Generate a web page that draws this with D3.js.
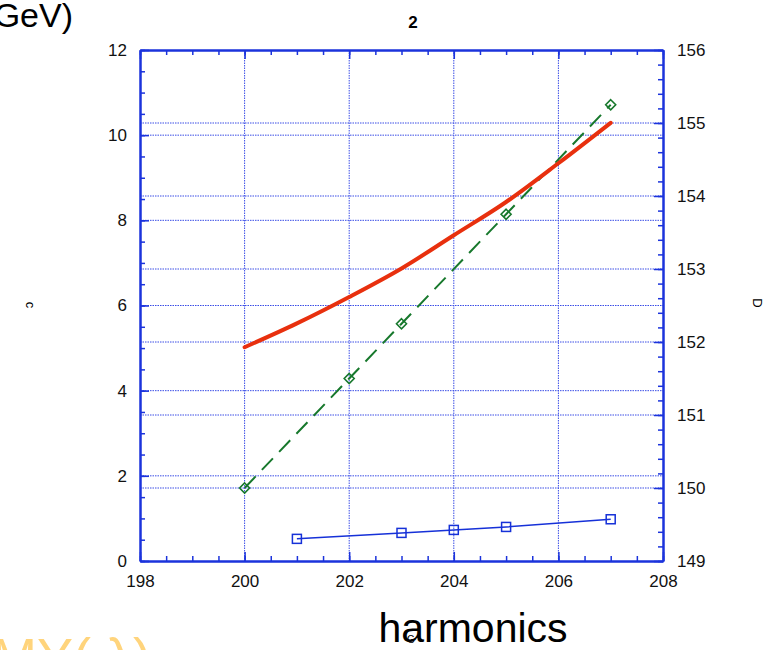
<!DOCTYPE html>
<html>
<head>
<meta charset="utf-8">
<script src="https://cdn.jsdelivr.net/npm/d3@7"></script>
<style>
body { margin: 0; background: #fff; }
svg { display: block; font-family: "Liberation Sans", Arial, sans-serif; }
</style>
</head>
<body>
<svg id="chart" width="765" height="650"></svg>
<script>

// values
var harmonics = [200, 201, 202, 203, 204, 205, 206, 207];
var redValues = [5.02, 5.58, 6.20, 6.87, 7.65, 8.43, 9.34, 10.29];

var greenHarmonics = [200, 202, 203, 205, 207];
var greenValues = [150.0, 151.5, 152.25, 153.75, 155.25];

var blueHarmonics = [201, 203, 204, 205, 207];
var blueValues = [0.52, 0.66, 0.73, 0.80, 0.98];

var xTicks = [198, 200, 202, 204, 206, 208];
var leftTicks = [0, 2, 4, 6, 8, 10, 12];
var rightTicks = [149, 150, 151, 152, 153, 154, 155, 156];

var svg = d3.select("#chart");

// plot box ("top" is taken by window.top, so use pl/pr/pt/pb)
var pl = 140, pr = 663, pt = 50, pb = 561;
var axisBlue = "#1b33dc";

var x = d3.scaleLinear().domain([198, 208]).range([pl, pr]);
var yL = d3.scaleLinear().domain([0, 12]).range([pb, pt]);
var yR = d3.scaleLinear().domain([149, 156]).range([pb, pt]);

// grid
var grid = svg.append("g")
    .attr("stroke", "#3a4de6")
    .attr("stroke-width", 1)
    .attr("stroke-dasharray", "1.5,1");

grid.selectAll("line.v")
    .data(xTicks.slice(1, -1))
    .enter().append("line")
    .attr("x1", function(d){ return x(d); })
    .attr("x2", function(d){ return x(d); })
    .attr("y1", pt).attr("y2", pb);

grid.selectAll("line.hl")
    .data(leftTicks.slice(1, -1))
    .enter().append("line")
    .attr("x1", pl).attr("x2", pr)
    .attr("y1", function(d){ return yL(d); })
    .attr("y2", function(d){ return yL(d); });

grid.selectAll("line.hr")
    .data(rightTicks.slice(1, -1))
    .enter().append("line")
    .attr("x1", pl).attr("x2", pr)
    .attr("y1", function(d){ return yR(d); })
    .attr("y2", function(d){ return yR(d); });

function styleAxis(g){
    g.select(".domain").attr("stroke", axisBlue).attr("stroke-width", 2);
    g.selectAll(".tick line").attr("stroke", axisBlue).attr("stroke-width", 1.5);
    g.selectAll(".tick text").attr("fill", "#111").style("font-size", "17px");
}

// minor ticks first
var xMinor = d3.range(198, 208.01, 0.5);
var lMinor = d3.range(0, 12.01, 0.5);
var rMinor = d3.range(149, 156.01, 0.2);

svg.append("g").attr("transform", "translate(0," + pb + ")")
    .call(d3.axisBottom(x).tickValues(xMinor).tickFormat("").tickSizeInner(-5).tickSizeOuter(0))
    .call(styleAxis);
svg.append("g").attr("transform", "translate(0," + pt + ")")
    .call(d3.axisTop(x).tickValues(xMinor).tickFormat("").tickSizeInner(-5).tickSizeOuter(0))
    .call(styleAxis);
svg.append("g").attr("transform", "translate(" + pl + ",0)")
    .call(d3.axisLeft(yL).tickValues(lMinor).tickFormat("").tickSizeInner(-5).tickSizeOuter(0))
    .call(styleAxis);
svg.append("g").attr("transform", "translate(" + pr + ",0)")
    .call(d3.axisRight(yR).tickValues(rMinor).tickFormat("").tickSizeInner(-5).tickSizeOuter(0))
    .call(styleAxis);

// major ticks + labels
svg.append("g").attr("transform", "translate(0," + pb + ")")
    .call(d3.axisBottom(x).tickValues(xTicks).tickFormat(d3.format("d")).tickSizeInner(-9).tickSizeOuter(0).tickPadding(14))
    .call(styleAxis);
svg.append("g").attr("transform", "translate(0," + pt + ")")
    .call(d3.axisTop(x).tickValues(xTicks).tickFormat("").tickSizeInner(-9).tickSizeOuter(0))
    .call(styleAxis);
svg.append("g").attr("transform", "translate(" + pl + ",0)")
    .call(d3.axisLeft(yL).tickValues(leftTicks).tickFormat(d3.format("d")).tickSizeInner(-9).tickSizeOuter(0).tickPadding(13))
    .call(styleAxis);
svg.append("g").attr("transform", "translate(" + pr + ",0)")
    .call(d3.axisRight(yR).tickValues(rightTicks).tickFormat(d3.format("d")).tickSizeInner(-9).tickSizeOuter(0).tickPadding(14))
    .call(styleAxis);

// blue series
var blueLine = d3.line()
    .x(function(d, i){ return x(blueHarmonics[i]); })
    .y(function(d){ return yL(d); });

svg.append("path")
    .attr("d", blueLine(blueValues))
    .attr("fill", "none")
    .attr("stroke", "#1631d8")
    .attr("stroke-width", 1.5);

svg.selectAll("rect.sq")
    .data(blueValues)
    .enter().append("rect")
    .attr("x", function(d, i){ return x(blueHarmonics[i]) - 4.5; })
    .attr("y", function(d){ return yL(d) - 4.5; })
    .attr("width", 9).attr("height", 9)
    .attr("fill", "none")
    .attr("stroke", "#1631d8")
    .attr("stroke-width", 1.5);

// green dashed series (right axis)
var greenLine = d3.line()
    .x(function(d, i){ return x(greenHarmonics[i]); })
    .y(function(d){ return yR(d); });

svg.append("path")
    .attr("d", greenLine(greenValues))
    .attr("fill", "none")
    .attr("stroke", "#17782c")
    .attr("stroke-width", 2)
    .attr("stroke-dasharray", "16,9");

svg.selectAll("path.dia")
    .data(greenValues)
    .enter().append("path")
    .attr("transform", function(d, i){ return "translate(" + x(greenHarmonics[i]) + "," + yR(d) + ")"; })
    .attr("d", "M0,-5 L5,0 L0,5 L-5,0 Z")
    .attr("fill", "none")
    .attr("stroke", "#17782c")
    .attr("stroke-width", 1.6);

// red curve
var redLine = d3.line()
    .curve(d3.curveMonotoneX)
    .x(function(d, i){ return x(harmonics[i]); })
    .y(function(d){ return yL(d); });

svg.append("path")
    .attr("d", redLine(redValues))
    .attr("fill", "none")
    .attr("stroke", "#e8300e")
    .attr("stroke-width", 4)
    .attr("stroke-linecap", "round");

// texts
svg.append("text")
    .attr("x", 413).attr("y", 28)
    .attr("text-anchor", "middle")
    .style("font-size", "17px").style("font-weight", "bold")
    .text("2");

svg.append("text")
    .attr("x", 73).attr("y", 27)
    .attr("text-anchor", "end")
    .style("font-size", "34px")
    .text("(GeV)");

svg.append("text")
    .attr("x", 473).attr("y", 642)
    .attr("text-anchor", "middle")
    .style("font-size", "41px")
    .text("harmonics");

svg.append("text")
    .attr("transform", "translate(26,305) rotate(90)")
    .attr("text-anchor", "middle")
    .style("font-size", "13px")
    .text("c");

svg.append("text")
    .attr("transform", "translate(753,303) rotate(90)")
    .attr("text-anchor", "middle")
    .style("font-size", "13px")
    .text("D");

svg.append("text")
    .attr("x", 411).attr("y", 643)
    .attr("text-anchor", "middle")
    .style("font-size", "10px")
    .text("G");

svg.append("text")
    .attr("x", -8).attr("y", 676)
    .style("font-size", "54px")
    .attr("fill", "#ffd47c")
    .text("MY( λ)");

</script>
</body>
</html>
